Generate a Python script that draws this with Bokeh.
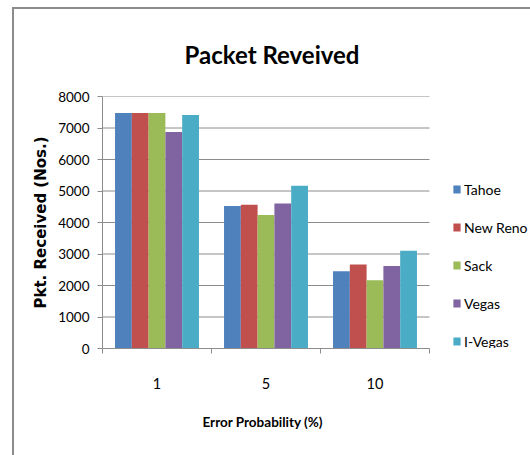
from bokeh.plotting import figure
from bokeh.models import FixedTicker, Legend, LegendItem, Range1d, Title
from bokeh.embed import file_html
from bokeh.resources import INLINE

# Data
categories = ["1", "5", "10"]
series = ["Tahoe", "New Reno", "Sack", "Vegas", "I-Vegas"]
tahoe = [7480, 4520, 2450]
new_reno = [7480, 4560, 2670]
sack = [7480, 4240, 2170]
vegas = [6870, 4600, 2620]
i_vegas = [7410, 5170, 3100]
colors = ["#4F81BD", "#C0504D", "#9BBB59", "#8064A2", "#4BACC6"]
y_ticks = [0, 1000, 2000, 3000, 4000, 5000, 6000, 7000, 8000]

values = [tahoe, new_reno, sack, vegas, i_vegas]
gray = "#8c8c8c"
calibri_like = "Lato"

# plot area spans the categories plus room on the right for the legend
n_cat = len(categories)
plot_px = 327          # width of the category area
left_px = 102
canvas_w, canvas_h = 530, 455
x_max = n_cat * (canvas_w - left_px) / plot_px

p = figure(width=canvas_w, height=canvas_h, output_backend="svg", toolbar_location=None,
           x_range=Range1d(0, x_max), y_range=Range1d(0, 8000),
           min_border_left=left_px, min_border_right=0,
           min_border_top=96, min_border_bottom=107)

# chart-area border (left and top edges) drawn behind a transparent canvas
p.border_fill_alpha = 0
p.background_fill_color = "white"
p.styles = {
    "background": (
        f"linear-gradient({gray},{gray}) 12px 7px / 2px calc(100% - 7px) no-repeat, "
        f"linear-gradient({gray},{gray}) 12px 7px / calc(100% - 12px) 2px no-repeat, white"
    )
}
p.outline_line_color = None

# horizontal gridlines across the category area only
p.xgrid.visible = False
p.ygrid.visible = False
p.segment(x0=[0] * len(y_ticks), x1=[n_cat] * len(y_ticks), y0=y_ticks, y1=y_ticks,
          line_color=gray, line_width=1)

# clustered bars
bar_w = 0.154
centers = [i + 0.5 for i in range(n_cat)]
items = []
for k, (name, vals, col) in enumerate(zip(series, values, colors)):
    xs = [c + (k - 2) * bar_w for c in centers]
    r = p.vbar(x=xs, top=vals, bottom=0, width=bar_w,
               fill_color=col, line_color=None)
    items.append(LegendItem(label=name, renderers=[r]))

# title
p.title.text = "Packet Reveived"
p.title.align = "left"
p.title.offset = 82
p.title.text_font = calibri_like
p.title.text_font_size = "24px"
p.title.text_font_style = "bold"
p.title.text_color = "black"
p.title.standoff = 56

# y axis
yax = p.yaxis[0]
yax.ticker = FixedTicker(ticks=y_ticks)
yax.axis_line_color = gray
yax.major_tick_line_color = gray
yax.major_tick_out = 5
yax.major_tick_in = 0
yax.minor_tick_line_color = None
yax.major_label_text_font = calibri_like
yax.major_label_text_font_size = "13.5px"
yax.major_label_text_color = "black"
yax.major_label_standoff = 8
yax.axis_label = "Pkt. Received (Nos.)"
yax.axis_label_text_font = "DejaVu Sans"
yax.axis_label_text_font_style = "bold"
yax.axis_label_text_font_size = "15px"
yax.axis_label_text_color = "black"
yax.axis_label_standoff = 5

# x axis: labels at category centres, ticks at category boundaries
xax = p.xaxis[0]
xax.bounds = (0, n_cat)
xax.ticker = FixedTicker(ticks=centers, minor_ticks=list(range(n_cat + 1)))
xax.major_label_overrides = {c: lab for c, lab in zip(centers, categories)}
xax.axis_line_color = gray
xax.major_tick_line_color = None
xax.major_tick_out = 0
xax.major_tick_in = 0
xax.minor_tick_line_color = gray
xax.minor_tick_out = 5
xax.minor_tick_in = 0
xax.major_label_text_font = calibri_like
xax.major_label_text_font_size = "14.5px"
xax.major_label_text_color = "black"
xax.major_label_standoff = 24

# x-axis title, centred under the category area
x_title = Title(text="Error Probability (%)", align="left", offset=100,
                text_font=calibri_like, text_font_style="bold",
                text_font_size="13.5px", text_color="black", standoff=40)
p.add_layout(x_title, "below")

# legend at the right of the bars
legend = Legend(items=items, location=(350, -2), orientation="vertical",
                glyph_width=9, glyph_height=10, label_height=18, spacing=20,
                label_standoff=3, padding=0, margin=0,
                border_line_color=None, background_fill_alpha=0,
                label_text_font=calibri_like, label_text_font_size="14px",
                label_text_color="black", label_text_baseline="middle")
p.add_layout(legend, "center")

open("out.html", "w").write(file_html(p, INLINE))
